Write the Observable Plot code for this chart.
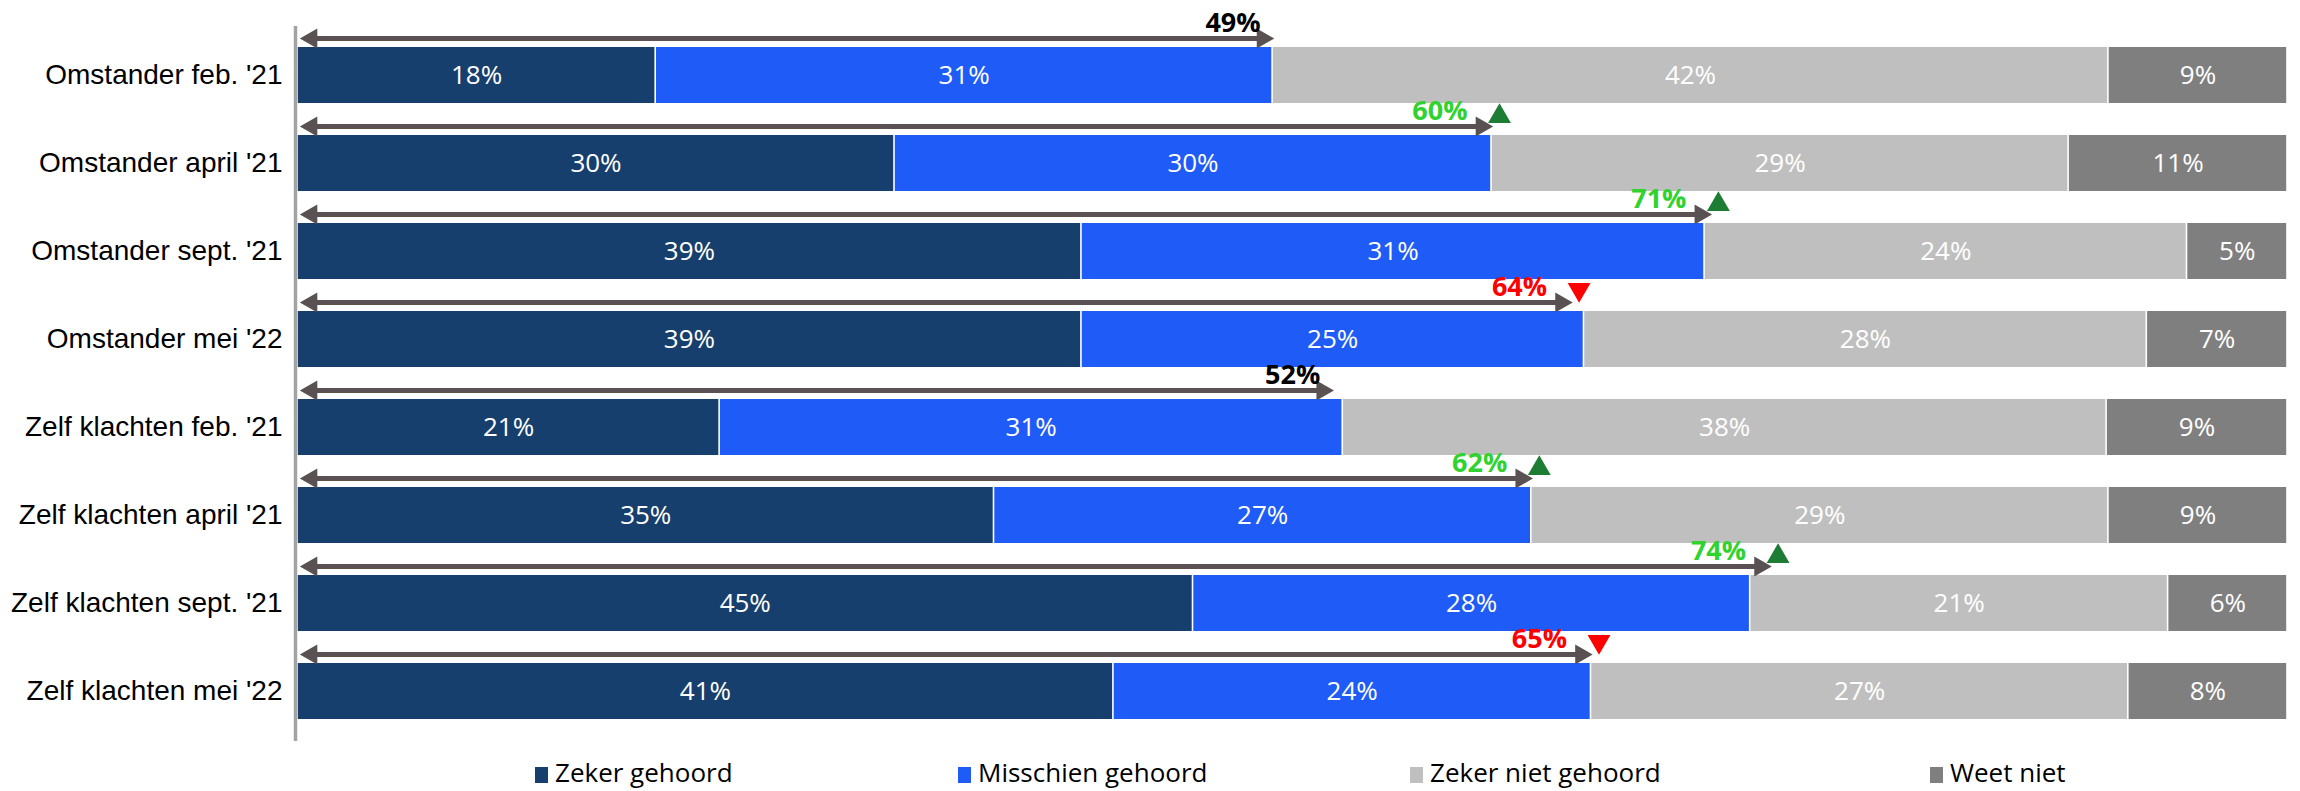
<!DOCTYPE html>
<html>
<head>
<meta charset="utf-8">
<script src="https://cdn.jsdelivr.net/npm/d3@7"></script>
<script src="https://cdn.jsdelivr.net/npm/@observablehq/plot@0.6"></script>
<style>
  html, body { margin: 0; padding: 0; background: #fff; }
  #chart { width: 2300px; }
  #legend { position: relative; width: 2300px; height: 46px; font-family: "Open Sans", sans-serif; font-size: 26px; color: #000; }
  .item { position: absolute; top: 9px; height: 36px; line-height: 36px; white-space: nowrap; }
  .sw { display: inline-block; width: 13px; height: 16px; margin-right: 7px; vertical-align: -1px; }
</style>
</head>
<body>
<div id="chart"></div>
<div id="legend"></div>
<script>
const categories = [
  "Omstander feb. '21", "Omstander april '21", "Omstander sept. '21", "Omstander mei '22",
  "Zelf klachten feb. '21", "Zelf klachten april '21", "Zelf klachten sept. '21", "Zelf klachten mei '22"
];
const responses = ["Zeker gehoord", "Misschien gehoord", "Zeker niet gehoord", "Weet niet"];
const zekerGehoord     = [18, 30, 39, 39, 21, 35, 45, 41];
const misschienGehoord = [31, 30, 31, 25, 31, 27, 28, 24];
const zekerNietGehoord = [42, 29, 24, 28, 38, 29, 21, 27];
const weetNiet         = [9, 11, 5, 7, 9, 9, 6, 8];
const totaalGehoord    = [49, 60, 71, 64, 52, 62, 74, 65];
const trend            = ["", "up", "up", "down", "", "up", "up", "down"];
const responseColors   = ["#173f6e", "#1f5bf6", "#bfbfbf", "#7f7f7f"];
const legendLeft       = [535, 958, 1410, 1930];

const series = [zekerGehoord, misschienGehoord, zekerNietGehoord, weetNiet];
const data = [];
categories.forEach((cat, i) => {
  responses.forEach((resp, j) => data.push({cat, resp, value: series[j][i]}));
});
const totals = categories.map((cat, i) => ({cat, total: totaalGehoord[i] / 100, trend: trend[i], label: totaalGehoord[i] + "%"}));
const labelColor = t => t === "up" ? "#2fd22f" : t === "down" ? "#ff0000" : "#000000";

const arrowColor = "#5a5252";
const arrowDy = -37;

const chart = Plot.plot({
  width: 2300,
  height: 745,
  marginLeft: 297,
  marginRight: 13,
  marginTop: 26,
  marginBottom: 4,
  style: {fontFamily: "'Liberation Sans', Arial, sans-serif", background: "#fff"},
  x: {domain: [0, 1], axis: null},
  y: {domain: categories, paddingInner: 0.36, paddingOuter: 0.2, label: null},
  color: {domain: responses, range: responseColors},
  marks: [
    Plot.barX(data, Plot.stackX({
      x: "value", y: "cat", fill: "resp", order: responses, offset: "normalize",
      insetLeft: 0.8, insetRight: 0.8
    })),
    Plot.textX(data, Plot.stackX({
      x: "value", y: "cat", z: "resp", order: responses, offset: "normalize",
      text: d => d.value + "%", fill: "white", fontSize: 26, fontFamily: "'Open Sans', sans-serif"
    })),
    Plot.ruleX([0], {stroke: "#a3a3a3", strokeWidth: 3.5, dx: -2}),
    Plot.axisY({tickSize: 0, tickPadding: 15, fontSize: 28, label: null}),
    // double-headed arrows
    Plot.ruleY(totals, {y: "cat", x1: 0, x2: "total", dy: arrowDy, stroke: arrowColor, strokeWidth: 5, insetLeft: 10, insetRight: 10}),
    Plot.dot(totals, {x: 0, y: "cat", dy: arrowDy, dx: 14, symbol: "triangle", rotate: -90, r: 7.5, fill: arrowColor, stroke: "none"}),
    Plot.dot(totals, {x: "total", y: "cat", dy: arrowDy, dx: -10, symbol: "triangle", rotate: 90, r: 7.5, fill: arrowColor, stroke: "none"}),
    // totals labels
    Plot.text(totals.filter(d => d.trend === ""), {x: "total", y: "cat", text: "label", dy: -52, dx: -12, textAnchor: "end", fontSize: 27, fontWeight: "bold", fontFamily: "'Open Sans', sans-serif", fill: d => labelColor(d.trend)}),
    Plot.text(totals.filter(d => d.trend !== ""), {x: "total", y: "cat", text: "label", dy: -52, dx: -24, textAnchor: "end", fontSize: 27, fontWeight: "bold", fontFamily: "'Open Sans', sans-serif", fill: d => labelColor(d.trend)}),
    // trend markers
    Plot.dot(totals.filter(d => d.trend === "up"), {x: "total", y: "cat", dy: -47, dx: 8, symbol: "triangle", rotate: 0, r: 8.5, fill: "#1e7d35", stroke: "none"}),
    Plot.dot(totals.filter(d => d.trend === "down"), {x: "total", y: "cat", dy: -50, dx: 8, symbol: "triangle", rotate: 180, r: 8.5, fill: "#ff0000", stroke: "none"})
  ]
});
document.getElementById("chart").appendChild(chart);

const legend = document.getElementById("legend");
responses.forEach((r, i) => {
  const item = document.createElement("div");
  item.className = "item";
  item.style.left = legendLeft[i] + "px";
  const sw = document.createElement("span");
  sw.className = "sw";
  sw.style.background = responseColors[i];
  item.appendChild(sw);
  item.appendChild(document.createTextNode(r));
  legend.appendChild(item);
});
</script>
</body>
</html>
